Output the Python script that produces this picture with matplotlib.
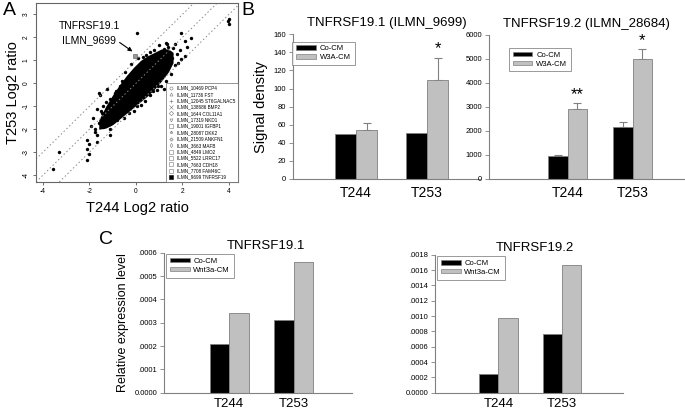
import matplotlib
matplotlib.use('Agg')
import matplotlib.pyplot as plt
from matplotlib.lines import Line2D
from matplotlib.patches import Patch
import numpy as np

plt.rcParams['font.family'] = ['Liberation Sans', 'DejaVu Sans']

# ---- panel A data ----
# dense core of the cloud: envelope per x
core_x = [-1.6, -1.3, -1.0, -0.7, -0.4, -0.1, 0.2, 0.5, 0.8, 1.1, 1.4, 1.6]
core_hi = [-1.6, -1.0, -0.5, -0.05, 0.35, 0.7, 1.0, 1.2, 1.35, 1.5, 1.5, 1.35]
core_lo = [-2.0, -1.95, -1.8, -1.55, -1.3, -1.05, -0.8, -0.55, -0.25, 0.1, 0.5, 0.9]

pts_x = [0.06, 4.0, 3.95, 4.02, 2.38, 2.1, 1.95, 2.2, 1.53, 2.1, 1.89, 1.7, 1.6, 1.75,
         1.95, 1.4, 1.3, 1.2, 1.0, 0.8, 0.6, 0.45, 0.3, 1.5, 1.3, 1.1, 0.9, 0.6, 0.4,
         0.2, 1.7, 1.8, 0.75, 1.2, -1.24, -1.6, -1.53, -1.67, -1.45, -1.6, -1.31, -1.1,
         -0.96, -1.77, -1.67, -1.1, -1.1, -1.67, -2.02, -2.09, -3.3, -3.59, -0.53, -1.95,
         -2.12, -2.02, -2.1, -1.4, -1.5, -1.2, -1.4, -1.1, -0.9, -0.7, -0.8, -0.3, -0.1,
         -1.3, -1.5, -0.45, -0.2, 0.1, 0.05, -0.6, -0.85, 1.35, 1.55, 0.95, -1.85, -1.75]
pts_y = [2.2, 2.8, 2.7, 2.6, 1.98, 1.85, 2.2, 1.6, 1.26, 1.18, 1.45, 1.7, 1.55, 1.3,
         1.05, 1.6, 1.75, 1.5, 1.65, 1.45, 1.35, 1.25, 1.15, 0.4, 0.1, -0.1, -0.3, -0.5,
         -0.75, -0.95, 0.8, 0.9, -0.35, -0.25, -0.24, -0.41, -0.49, -1.11, -1.28, -1.72,
         -1.43, -1.79, -1.65, -2.01, -2.23, -2.01, -2.23, -2.56, -2.66, -2.88, -3.0, -3.72,
         -1.5, -1.87, -2.45, -3.1, -3.33, -1.9, -1.6, -1.2, -1.0, -0.7, -0.4, -0.1, -1.6,
         -1.3, -1.2, -0.8, -1.2, 0.5, 0.85, 1.1, -1.0, 0.1, -0.35, 1.7, 1.1, -0.1, -1.5,
         -2.1]
diag_offsets = [1, 0, -1]
gene_x = -0.05
gene_y = 1.2
legend_genes = ['ILMN_10469 PCP4', 'ILMN_11736 FST', 'ILMN_12045 ST6GALNAC5',
                'ILMN_138686 BMP2', 'ILMN_1644 COL11A1', 'ILMN_17319 NKD1',
                'ILMN_19001 IGFBP1', 'ILMN_28087 DKK2', 'ILMN_21509 ANKFN1',
                'ILMN_3663 MAFB', 'ILMN_4849 LMO2', 'ILMN_5522 LRRC17',
                'ILMN_7663 CDH18', 'ILMN_7708 FAM46C', 'ILMN_9699 TNFRSF19']
legend_marks = ['o', '^', '+', 'x', 'D', 'v', 's', '*', 'P', 'd', 's', 's', 's', 's', 's']

# ---- panel B / C data ----
cats = ['T244', 'T253']
b1_co = [50, 50.5]
b1_w3a = [54, 110]
b1_w3a_err = [7.5, 24]
b1_stars = ['', '*']

b2_co = [960, 2150]
b2_co_err = [40, 230]
b2_w3a = [2900, 5000]
b2_w3a_err = [250, 400]
b2_stars = ['**', '*']

c1_co = [0.000209, 0.000312]
c1_wnt = [0.000340, 0.000562]
c2_co = [0.000244, 0.000762]
c2_wnt = [0.000970, 0.001660]

GRAY = '#c0c0c0'
EDGE = '#808080'

fig = plt.figure(figsize=(6.85, 4.13), dpi=100)

# ================= A =================
ax = fig.add_axes([0.0526, 0.5593, 0.295, 0.4334])
ax.set_xlim(-4.3, 4.4)
ax.set_ylim(-4.3, 3.5)
for off in diag_offsets:
    ax.axline((0, off), slope=1, color='#888888', lw=0.7, ls=(0, (1.5, 2.5)))
ax.fill_between(core_x, core_lo, core_hi, color='black', lw=0)
ax.scatter(pts_x, pts_y, s=6, c='black', lw=0)
ax.scatter([gene_x], [gene_y], s=8, marker='s', facecolor='#999999', edgecolor='#555555', lw=0.4)
ax.annotate('', xy=(gene_x, gene_y + 0.12), xytext=(-0.8, 1.85),
            arrowprops=dict(arrowstyle='-|>', color='black', lw=0.8, mutation_scale=6))
ax.text(-2.0, 2.52, 'TNFRSF19.1', ha='center', va='center', fontsize=7.5)
ax.text(-2.0, 1.87, 'ILMN_9699', ha='center', va='center', fontsize=7.5)
ax.set_xticks([-4, -2, 0, 2, 4])
ax.set_xticklabels(['-4', '-2', '0', '2', '4'])
ax.set_yticks([-4, -3, -2, -1, 0, 1, 2, 3])
ax.set_yticklabels(['-4', '-3', '-2', '-1', '0', '1', '2', '3'], rotation=90, va='center')
ax.tick_params(labelsize=4.8, length=2.5, width=0.6, color='#555555', pad=2)
for s in ax.spines.values():
    s.set_color('#666666')
    s.set_linewidth(0.8)
ax.set_xlabel('T244 Log2 ratio', fontsize=10.5, labelpad=4)
ax.set_ylabel('T253 Log2 ratio', fontsize=10.5, labelpad=2)
handles = []
for m, lab in zip(legend_marks, legend_genes):
    fc = 'black' if lab.endswith('TNFRSF19') else 'none'
    handles.append(Line2D([], [], marker=m, ls='none', color='#777777', markerfacecolor=fc,
                          markeredgecolor='#777777' if fc == 'none' else 'black',
                          markersize=2.2, markeredgewidth=0.4))
leg = ax.legend(handles=handles, labels=legend_genes, loc='lower right', fontsize=3.3,
                frameon=True, fancybox=False, borderaxespad=0, handletextpad=0.8,
                labelspacing=0.3, borderpad=0.5, handlelength=1.2)
leg.get_frame().set_edgecolor('#666666')
leg.get_frame().set_linewidth(0.6)
fig.text(0.004, 0.995, 'A', fontsize=14, va='top', ha='left')


def bar_panel(rect, xlim, ylim, yticks, yticklabels, co, wnt, labels, title,
              co_err=None, wnt_err=None, stars=None, star_pad=1.0, legend_rect=None,
              title_x=0.5, title_pad=6, xpad=4.7, xfs=10):
    ax = fig.add_axes(rect)
    x = np.arange(1, len(cats) + 1)
    w = 0.3
    ax.bar(x - w / 2, co, w, color='black', edgecolor=EDGE, lw=0.6, label=labels[0], zorder=2)
    ax.bar(x + w / 2, wnt, w, color=GRAY, edgecolor=EDGE, lw=0.6, label=labels[1], zorder=2)
    if co_err is not None:
        ax.errorbar(x - w / 2, co, yerr=[np.zeros(len(co)), co_err], fmt='none',
                    ecolor=EDGE, elinewidth=0.8, capsize=3, capthick=0.8, zorder=1)
    if wnt_err is not None:
        ax.errorbar(x + w / 2, wnt, yerr=[np.zeros(len(wnt)), wnt_err], fmt='none',
                    ecolor=EDGE, elinewidth=0.8, capsize=3, capthick=0.8, zorder=1)
    if stars is not None:
        tops = np.array(wnt) + np.array(wnt_err)
        for xi, t, st in zip(x, tops, stars):
            if st:
                ax.annotate(st, xy=(xi + w / 2, t), xytext=(0, star_pad),
                            textcoords='offset points', ha='center', va='bottom',
                            fontsize=12)
    ax.set_xlim(*xlim)
    ax.set_ylim(*ylim)
    ax.set_xticks(x)
    ax.set_xticklabels(cats, fontsize=xfs)
    ax.set_yticks(yticks)
    ax.set_yticklabels(yticklabels)
    ax.tick_params(axis='x', length=0, pad=xpad)
    ax.tick_params(axis='y', labelsize=5.5, length=3, width=0.6, color=EDGE, pad=2)
    for s in ['top', 'right']:
        ax.spines[s].set_visible(False)
    for s in ['left', 'bottom']:
        ax.spines[s].set_color(EDGE)
        ax.spines[s].set_linewidth(0.8)
    ax.set_title(title, fontsize=9.5, pad=title_pad, x=title_x)
    hs = [Patch(facecolor='black', edgecolor=EDGE, lw=0.5),
          Patch(facecolor=GRAY, edgecolor=EDGE, lw=0.5)]
    leg = ax.legend(hs, labels, loc='upper left', bbox_to_anchor=legend_rect, fontsize=5.5,
                    frameon=True, fancybox=False, handlelength=2.6, handleheight=0.55,
                    handletextpad=0.5, labelspacing=0.25, borderpad=0.5, borderaxespad=0)
    leg.get_frame().set_edgecolor(EDGE)
    leg.get_frame().set_linewidth(0.7)
    return ax


# ================= B =================
ax = bar_panel([0.4282, 0.5666, 0.2726, 0.3504], (0.113, 2.75), (0, 160),
               range(0, 161, 20), [str(v) for v in range(0, 161, 20)],
               b1_co, b1_w3a, ['Co-CM', 'W3A-CM'], 'TNFRSF19.1 (ILMN_9699)',
               wnt_err=b1_w3a_err, stars=b1_stars, legend_rect=(-0.005, 0.95))
ax.set_ylabel('Signal density', fontsize=10.5, labelpad=4)
bar_panel([0.7143, 0.5666, 0.2842, 0.3487], (-0.206, 2.79), (0, 6000),
          range(0, 6001, 1000), [str(v) for v in range(0, 6001, 1000)],
          b2_co, b2_w3a, ['Co-CM', 'W3A-CM'], 'TNFRSF19.2 (ILMN_28684)',
          co_err=b2_co_err, wnt_err=b2_w3a_err, stars=b2_stars, legend_rect=(0.1, 0.91))
fig.text(0.353, 0.995, 'B', fontsize=14, va='top', ha='left')

# ================= C =================
c1_ticks = [0, 0.0001, 0.0002, 0.0003, 0.0004, 0.0005, 0.0006]
c1_lab = ['0.0000', '.0001', '.0002', '.0003', '.0004', '.0005', '.0006']
ax = bar_panel([0.2394, 0.0492, 0.2745, 0.339], (-0.01, 2.9), (0, 0.0006),
               c1_ticks, c1_lab, c1_co, c1_wnt, ['Co-CM', 'Wnt3a-CM'], 'TNFRSF19.1',
               legend_rect=(0.01, 0.99), title_x=0.54, title_pad=3, xpad=4, xfs=9.5)
ax.set_ylabel('Relative expression level', fontsize=9, labelpad=4)
c2_ticks = [0, 0.0002, 0.0004, 0.0006, 0.0008, 0.0010, 0.0012, 0.0014, 0.0016, 0.0018]
c2_lab = ['0.0000', '.0002', '.0004', '.0006', '.0008', '.0010', '.0012', '.0014',
          '.0016', '.0018']
bar_panel([0.635, 0.0492, 0.2749, 0.334], (0.006, 2.956), (0, 0.0018),
          c2_ticks, c2_lab, c2_co, c2_wnt, ['Co-CM', 'Wnt3a-CM'], 'TNFRSF19.2',
          legend_rect=(0.01, 0.99), title_x=0.53, title_pad=3, xpad=4, xfs=9.5)
fig.text(0.145, 0.44, 'C', fontsize=14, va='top', ha='left')

fig.savefig('out.png', dpi=100)
